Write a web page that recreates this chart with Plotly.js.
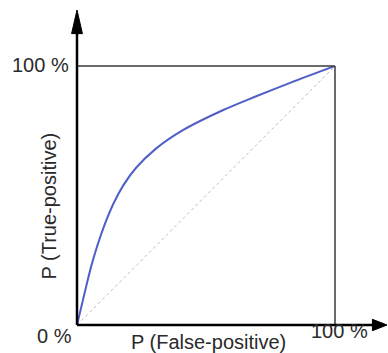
<!DOCTYPE html>
<html>
<head>
<meta charset="utf-8">
<script src="https://cdn.plot.ly/plotly-3.0.1.min.js"></script>
<style>html,body{margin:0;padding:0;background:#fff;}#chart{width:388px;height:353px;}</style>
</head>
<body>
<div id="chart"></div>
<script>
// ROC curve (fractions of 100 %)
const falsePositive = [0, 0.026, 0.058, 0.10, 0.141, 0.18, 0.23, 0.305, 0.412, 0.567, 0.697, 0.826, 1];
const truePositive  = [0, 0.109, 0.237, 0.368, 0.468, 0.540, 0.608, 0.680, 0.753, 0.830, 0.884, 0.935, 1];
// chance diagonal
const diagX = [0, 1];
const diagY = [0, 1];
// labels
const xTitle = "P (False-positive)";
const yTitle = "P (True-positive)";
const zeroLabel = "0 %";
const fullLabel = "100 %";

const font = {family: "Liberation Sans, Arial, sans-serif", size: 20, color: "#2a2a2a"};

const traces = [
  {x: diagX, y: diagY, mode: "lines", line: {color: "#bdbdbd", width: 1, dash: "dot"}, hoverinfo: "skip"},
  {x: falsePositive, y: truePositive, mode: "lines", line: {color: "#4f5fc9", width: 2, shape: "spline", smoothing: 1}, hoverinfo: "skip"}
];

const axisCommon = {range: [0, 1], showgrid: false, zeroline: false, showline: false, showticklabels: false, ticks: "", fixedrange: true};

const layout = {
  width: 388, height: 353,
  margin: {l: 77, r: 53, t: 66, b: 28, pad: 0},
  paper_bgcolor: "#ffffff", plot_bgcolor: "#ffffff",
  showlegend: false,
  xaxis: Object.assign({}, axisCommon),
  yaxis: Object.assign({}, axisCommon),
  shapes: [
    // box top and right
    {type: "line", xref: "paper", yref: "paper", x0: 0, y0: 1, x1: 1, y1: 1, line: {color: "#3a3a3a", width: 1.5}},
    {type: "line", xref: "paper", yref: "paper", x0: 1, y0: 0, x1: 1, y1: 1, line: {color: "#3a3a3a", width: 1.5}},
    // axes with arrows
    {type: "line", xref: "paper", yref: "paper", x0: 0, y0: 0, x1: 1.16, y1: 0, line: {color: "#000", width: 2.5}},
    {type: "line", xref: "paper", yref: "paper", x0: 0, y0: 0, x1: 0, y1: 1.14, line: {color: "#000", width: 2.5}},
    {type: "path", xref: "paper", yref: "paper", path: "M 1.2016 0 L 1.145 0.022 L 1.145 -0.022 Z", fillcolor: "#000", line: {color: "#000", width: 1}},
    {type: "path", xref: "paper", yref: "paper", path: "M 0 1.216 L -0.021 1.125 L 0.021 1.125 Z", fillcolor: "#000", line: {color: "#000", width: 1}}
  ],
  annotations: [
    {xref: "paper", yref: "paper", x: -0.025, y: 1.003, xanchor: "right", yanchor: "middle", text: fullLabel, showarrow: false, font: font},
    {xref: "paper", yref: "paper", x: -0.087, y: -0.044, xanchor: "center", yanchor: "middle", text: zeroLabel, showarrow: false, font: font},
    {xref: "paper", yref: "paper", x: 1.019, y: -0.025, xanchor: "center", yanchor: "middle", text: fullLabel, showarrow: false, font: font},
    {xref: "paper", yref: "paper", x: 0.508, y: -0.066, xanchor: "center", yanchor: "middle", text: xTitle, showarrow: false, font: font},
    {xref: "paper", yref: "paper", x: -0.107, y: 0.459, xanchor: "center", yanchor: "middle", text: yTitle, textangle: -90, showarrow: false, font: font}
  ]
};

Plotly.newPlot("chart", traces, layout, {displayModeBar: false, staticPlot: true});
</script>
</body>
</html>
